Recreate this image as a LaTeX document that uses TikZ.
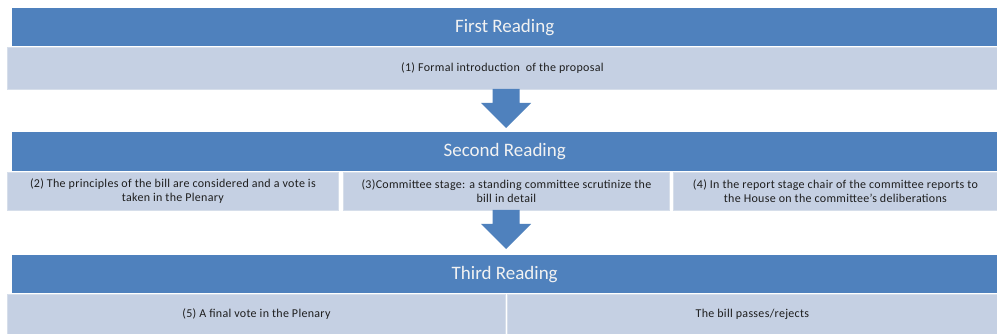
\documentclass[tikz,border=0pt]{standalone}
\usepackage{fontspec}
\setmainfont{Carlito}
\newfontfamily\cellfont[LetterSpace=2.5]{Carlito}
\definecolor{hdrblue}{HTML}{4F81BD}
\definecolor{cellblue}{HTML}{C5D0E3}
\definecolor{cellline}{HTML}{D6DEEA}
\definecolor{celltext}{HTML}{1E1E1E}
\begin{document}
\begin{tikzpicture}[x=1pt,y=-1pt,
  hdr/.style={fill=hdrblue, draw=none, text=white!95!black, font=\fontsize{19}{22}\selectfont, inner sep=0pt, anchor=north west},
  cell/.style={fill=cellblue, draw=cellline, line width=0.8pt, font=\cellfont\fontsize{12}{14}\selectfont, text=celltext, align=center, inner sep=0pt, anchor=north west},
  downarrow/.pic={\fill[hdrblue] (-13.5,0) -- (13.5,0) -- (13.5,14) -- (25,14) -- (0,39) -- (-25,14) -- (-13.5,14) -- cycle;}]
\useasboundingbox (0,0) rectangle (997,334);
\fill[white] (0,0) rectangle (997,334);
% First reading
\node[hdr, minimum width=985pt, minimum height=38pt] (h1) at (12,8) {First Reading};
\node[cell, minimum width=990pt, minimum height=42pt] (c1) at (7,47) {(1) Formal introduction\ \ of the proposal};
\pic at (506,89) {downarrow};
% Second reading
\node[hdr, minimum width=985pt, minimum height=39pt] (h2) at (12,132) {Second Reading};
\node[cell, minimum width=331pt, minimum height=38pt] (c2) at (7,172) {(2) The principles\ of the bill are considered\ and a vote is\\taken in the Plenary};
\node[cell, minimum width=326pt, minimum height=38pt] (c3) at (343,172) {(3)Committee\ stage: a standing committee\ scrutinize\ the\\bill in detail};
\node[cell, minimum width=324pt, minimum height=38pt] (c4) at (673,172) {(4) In the report\ stage chair of the committee\ reports to\\the House\ on the committee’s\ deliberations};
\pic at (506,210) {downarrow};
% Third reading
\node[hdr, minimum width=985pt, minimum height=38pt] (h3) at (12,255) {Third Reading};
\node[cell, minimum width=498pt, minimum height=40pt] (c5) at (7,294) {(5) A final\ vote in the Plenary};
\node[cell, minimum width=490pt, minimum height=40pt] (c6) at (507,294) {The bill\ passes/rejects};
\end{tikzpicture}
\end{document}
